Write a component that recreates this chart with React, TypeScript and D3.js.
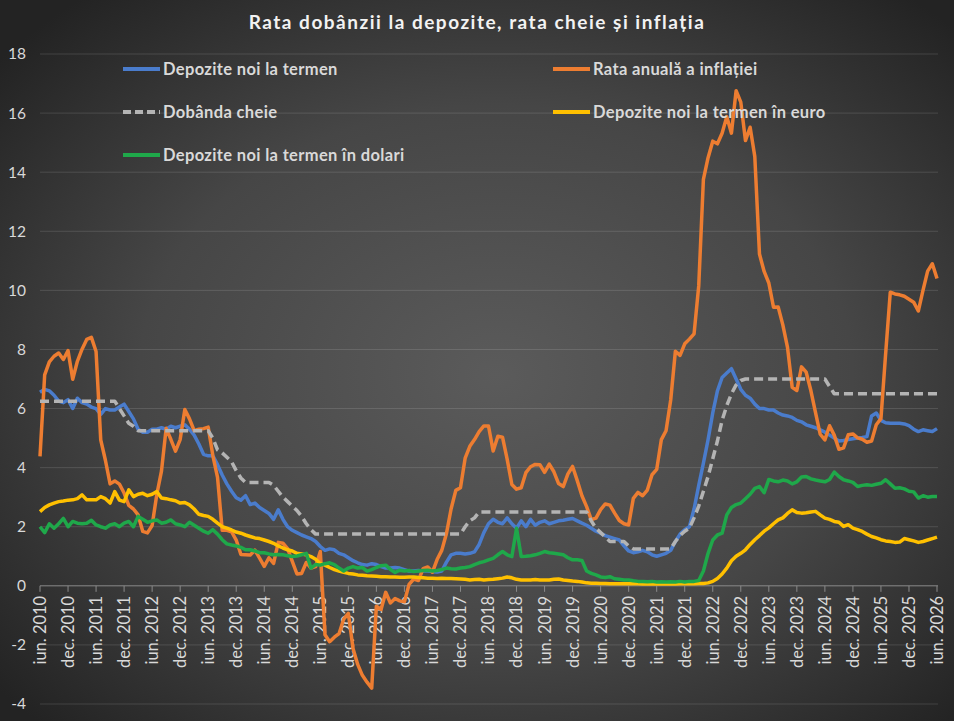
import React, { useRef, useEffect } from 'react';
import * as d3 from 'd3';

// Monthly values, June 2010 .. June 2026 (193 months)
const tickLabels = [
  'iun. 2010', 'dec. 2010', 'iun. 2011', 'dec. 2011', 'iun. 2012', 'dec. 2012',
  'iun. 2013', 'dec. 2013', 'iun. 2014', 'dec. 2014', 'iun. 2015', 'dec. 2015',
  'iun. 2016', 'dec. 2016', 'iun. 2017', 'dec. 2017', 'iun. 2018', 'dec. 2018',
  'iun. 2019', 'dec. 2019', 'iun. 2020', 'dec. 2020', 'iun. 2021', 'dec. 2021',
  'iun. 2022', 'dec. 2022', 'iun. 2023', 'dec. 2023', 'iun. 2024', 'dec. 2024',
  'iun. 2025', 'dec. 2025', 'iun. 2026',
];

const yTicks = [-4, -2, 0, 2, 4, 6, 8, 10, 12, 14, 16, 18];

const depoziteLei = [
  6.55, 6.65, 6.6, 6.45, 6.25, 6.2, 6.3,
  6.0, 6.35, 6.2, 6.15, 6.05, 6.0, 5.8, 6.0, 5.95, 5.95, 6.05, 6.15,
  5.9, 5.65, 5.3, 5.2, 5.2, 5.3, 5.3, 5.35, 5.3, 5.4, 5.35, 5.4,
  5.45, 5.3, 5.1, 4.8, 4.45, 4.4, 4.4, 4.1, 3.75, 3.45, 3.2, 2.98,
  2.9, 3.05, 2.75, 2.8, 2.65, 2.55, 2.45, 2.25, 2.57, 2.25, 2.0, 1.88,
  1.8, 1.72, 1.66, 1.6, 1.5, 1.33, 1.2, 1.25, 1.22, 1.1, 1.05, 0.95,
  0.85, 0.78, 0.72, 0.7, 0.75, 0.72, 0.65, 0.6, 0.6, 0.62, 0.6, 0.55,
  0.5, 0.5, 0.52, 0.5, 0.5, 0.48, 0.47, 0.5, 0.8, 1.05, 1.1, 1.1,
  1.08, 1.1, 1.15, 1.4, 1.8, 2.1, 2.25, 2.15, 2.1, 2.3, 2.1, 1.95,
  2.2, 2.0, 2.25, 2.05, 2.15, 2.2, 2.1, 2.15, 2.2, 2.22, 2.25, 2.28,
  2.2, 2.12, 2.05, 1.95, 1.85, 1.78, 1.7, 1.65, 1.6, 1.55, 1.35, 1.18,
  1.12, 1.15, 1.2, 1.15, 1.05, 1.0, 1.05, 1.1, 1.2, 1.5, 1.75, 1.9,
  2.0, 2.6, 3.4, 4.15, 4.95, 5.85, 6.6, 7.05, 7.2, 7.35, 7.0, 6.65,
  6.45, 6.35, 6.15, 6.0, 6.0, 5.95, 5.95, 5.85, 5.78, 5.75, 5.7, 5.6,
  5.55, 5.45, 5.4, 5.35, 5.28, 5.2, 5.1, 5.0, 4.9, 4.92, 4.95, 4.98,
  5.0, 5.02, 5.05, 5.75, 5.85, 5.6, 5.52, 5.5, 5.5, 5.5, 5.48, 5.42,
  5.3, 5.22, 5.28, 5.25, 5.22, 5.32,
];

const inflatie = [
  4.38, 7.14, 7.58, 7.77, 7.88, 7.66, 7.96,
  6.99, 7.6, 8.01, 8.34, 8.41, 7.93, 4.94, 4.25, 3.45, 3.55, 3.44, 3.14,
  2.72, 2.6, 2.4, 1.84, 1.79, 2.04, 3.09, 3.88, 5.33, 4.96, 4.56, 4.95,
  5.97, 5.65, 5.25, 5.3, 5.32, 5.37, 4.41, 3.67, 1.88, 1.88, 1.83, 1.55,
  1.06, 1.05, 1.04, 1.21, 0.94, 0.66, 0.95, 0.76, 1.47, 1.44, 1.26, 0.83,
  0.4, 0.42, 0.79, 0.6, 0.65, 1.16, -1.66, -1.89, -1.74, -1.62, -1.13, -0.93,
  -2.12, -2.66, -3.03, -3.26, -3.46, -0.69, -0.8, -0.22, -0.58, -0.43, -0.51, -0.54,
  0.05, 0.23, 0.18, 0.58, 0.64, 0.46, 0.89, 1.2, 1.77, 2.61, 3.23, 3.32,
  4.32, 4.72, 4.95, 5.22, 5.41, 5.41, 4.56, 5.06, 5.03, 4.28, 3.43, 3.27,
  3.32, 3.83, 4.03, 4.11, 4.1, 3.84, 4.12, 3.86, 3.46, 3.36, 3.79, 4.04,
  3.56, 3.05, 2.68, 2.24, 2.29, 2.58, 2.77, 2.73, 2.46, 2.21, 2.1, 2.06,
  2.96, 3.16, 3.05, 3.24, 3.76, 3.94, 4.95, 5.25, 6.29, 7.94, 7.8, 8.19,
  8.35, 8.53, 10.15, 13.76, 14.49, 15.05, 14.96, 15.32, 15.88, 15.32, 16.76, 16.37,
  15.07, 15.52, 14.53, 11.23, 10.64, 10.25, 9.43, 9.44, 8.83, 8.07, 6.72, 6.61,
  7.41, 7.23, 6.61, 5.86, 5.13, 4.94, 5.42, 5.1, 4.62, 4.67, 5.11, 5.14,
  5.01, 4.96, 4.86, 4.9, 5.45, 5.66, 7.84, 9.94, 9.88, 9.85, 9.8, 9.7,
  9.6, 9.3, 10.0, 10.65, 10.9, 10.4,
];

const dobandaCheie = [
  6.25, 6.25, 6.25, 6.25, 6.25, 6.25, 6.25,
  6.25, 6.25, 6.25, 6.25, 6.25, 6.25, 6.25, 6.25, 6.25, 6.25, 6.0, 5.75,
  5.5, 5.4, 5.25, 5.25, 5.25, 5.25, 5.25, 5.25, 5.25, 5.25, 5.25, 5.25,
  5.25, 5.25, 5.25, 5.25, 5.25, 5.25, 5.0, 4.6, 4.5, 4.35, 4.2, 3.9,
  3.65, 3.5, 3.5, 3.5, 3.5, 3.5, 3.5, 3.4, 3.2, 3.0, 2.85, 2.7,
  2.55, 2.35, 2.1, 1.9, 1.75, 1.75, 1.75, 1.75, 1.75, 1.75, 1.75, 1.75,
  1.75, 1.75, 1.75, 1.75, 1.75, 1.75, 1.75, 1.75, 1.75, 1.75, 1.75, 1.75,
  1.75, 1.75, 1.75, 1.75, 1.75, 1.75, 1.75, 1.75, 1.75, 1.75, 1.75, 1.75,
  2.0, 2.2, 2.3, 2.5, 2.5, 2.5, 2.5, 2.5, 2.5, 2.5, 2.5, 2.5,
  2.5, 2.5, 2.5, 2.5, 2.5, 2.5, 2.5, 2.5, 2.5, 2.5, 2.5, 2.5,
  2.5, 2.5, 2.5, 2.2, 1.95, 1.8, 1.65, 1.5, 1.5, 1.5, 1.5, 1.35,
  1.25, 1.25, 1.25, 1.25, 1.25, 1.25, 1.25, 1.25, 1.25, 1.5, 1.7, 1.85,
  1.95, 2.3, 2.7, 3.2, 3.7, 4.3, 4.9, 5.6, 6.1, 6.5, 6.8, 6.95,
  7.0, 7.0, 7.0, 7.0, 7.0, 7.0, 7.0, 7.0, 7.0, 7.0, 7.0, 7.0,
  7.0, 7.0, 7.0, 7.0, 7.0, 7.0, 6.75, 6.5, 6.5, 6.5, 6.5, 6.5,
  6.5, 6.5, 6.5, 6.5, 6.5, 6.5, 6.5, 6.5, 6.5, 6.5, 6.5, 6.5,
  6.5, 6.5, 6.5, 6.5, 6.5, 6.5,
];

const depoziteEuro = [
  2.51, 2.65, 2.74, 2.8, 2.85, 2.87, 2.9,
  2.91, 2.95, 3.08, 2.91, 2.91, 2.91, 3.02, 2.95, 2.8, 3.19, 2.9, 2.85,
  3.25, 3.02, 3.1, 3.13, 3.05, 3.1, 3.19, 2.97, 2.95, 2.91, 2.88, 2.8,
  2.82, 2.74, 2.6, 2.42, 2.38, 2.35, 2.25, 2.12, 2.0, 1.95, 1.89, 1.82,
  1.78, 1.72, 1.67, 1.62, 1.6, 1.55, 1.5, 1.44, 1.35, 1.28, 1.22, 1.18,
  1.1, 1.08, 1.05, 0.99, 0.9, 0.75, 0.7, 0.62, 0.55, 0.5, 0.46, 0.42,
  0.4, 0.37, 0.36, 0.34, 0.33, 0.32, 0.31, 0.31, 0.3, 0.3, 0.29, 0.29,
  0.3, 0.3, 0.28, 0.27, 0.26, 0.26, 0.25, 0.26, 0.25, 0.25, 0.24, 0.23,
  0.22, 0.2, 0.21, 0.22, 0.2, 0.21, 0.22, 0.24, 0.26, 0.3, 0.27, 0.22,
  0.2, 0.2, 0.2, 0.21, 0.2, 0.2, 0.2, 0.22, 0.23, 0.2, 0.18, 0.16,
  0.15, 0.13, 0.1, 0.09, 0.09, 0.08, 0.08, 0.07, 0.07, 0.07, 0.07, 0.07,
  0.07, 0.07, 0.06, 0.06, 0.06, 0.06, 0.06, 0.06, 0.06, 0.06, 0.07, 0.07,
  0.07, 0.07, 0.08, 0.08, 0.1, 0.15, 0.25, 0.4, 0.6, 0.85, 1.0, 1.1,
  1.22, 1.4, 1.56, 1.7, 1.85, 1.96, 2.1, 2.23, 2.3, 2.45, 2.57, 2.48,
  2.46, 2.47, 2.5, 2.52, 2.4, 2.29, 2.25, 2.18, 2.15, 2.01, 2.07, 1.95,
  1.9, 1.84, 1.75, 1.67, 1.62, 1.56, 1.52, 1.5, 1.47, 1.48, 1.6, 1.56,
  1.52, 1.47, 1.5, 1.55, 1.6, 1.65,
];

const depoziteDolari = [
  2.0, 1.8, 2.1, 1.95, 2.1, 2.28, 2.0,
  2.18, 2.12, 2.1, 2.12, 2.22, 2.06, 2.0, 1.95, 2.06, 2.1, 2.0, 2.12,
  2.18, 2.0, 2.35, 2.25, 2.15, 2.2, 2.23, 2.12, 2.15, 2.23, 2.1, 2.06,
  2.0, 2.15, 2.05, 1.95, 1.85, 1.78, 1.9, 1.75, 1.56, 1.42, 1.38, 1.35,
  1.3, 1.22, 1.22, 1.18, 1.12, 1.12, 1.08, 1.05, 1.06, 1.05, 1.02, 0.99,
  1.01, 1.05, 1.1, 0.6, 0.72, 0.7, 0.75, 0.78, 0.72, 0.6, 0.5, 0.6,
  0.65, 0.6, 0.62, 0.5, 0.55, 0.62, 0.68, 0.7, 0.55, 0.45, 0.53, 0.5,
  0.52, 0.48, 0.5, 0.52, 0.53, 0.5, 0.52, 0.55, 0.6, 0.58, 0.57, 0.6,
  0.62, 0.65, 0.72, 0.78, 0.82, 0.88, 0.93, 1.05, 1.16, 1.05, 0.99, 1.95,
  0.99, 1.0, 1.02, 1.05, 1.1, 1.16, 1.12, 1.1, 1.08, 1.05, 0.95, 0.88,
  0.88, 0.86, 0.5, 0.42, 0.37, 0.3, 0.28, 0.31, 0.24, 0.22, 0.2, 0.2,
  0.17, 0.15, 0.15, 0.14, 0.15, 0.13, 0.14, 0.13, 0.14, 0.13, 0.15, 0.13,
  0.15, 0.15, 0.18, 0.5, 1.1, 1.55, 1.72, 1.78, 2.4, 2.65, 2.75, 2.8,
  2.95, 3.1, 3.3, 3.36, 3.15, 3.6, 3.55, 3.52, 3.58, 3.55, 3.45, 3.52,
  3.68, 3.7, 3.62, 3.58, 3.55, 3.52, 3.6, 3.85, 3.7, 3.59, 3.55, 3.5,
  3.36, 3.4, 3.42, 3.4, 3.44, 3.47, 3.59, 3.45, 3.3, 3.32, 3.28, 3.2,
  3.18, 2.97, 3.05, 3.0, 3.02, 3.02,
];

const series = [
  { name: 'Depozite noi la termen', values: depoziteLei, color: '#4a7ccc', dash: null },
  { name: 'Rata anuală a inflației', values: inflatie, color: '#ed7d31', dash: null },
  { name: 'Dobânda cheie', values: dobandaCheie, color: '#b4b4b4', dash: '9,5' },
  { name: 'Depozite noi la termen în euro', values: depoziteEuro, color: '#ffc000', dash: null },
  { name: 'Depozite noi la termen în dolari', values: depoziteDolari, color: '#1fa84a', dash: null },
];

const FONT = 'Lato, "Open Sans", sans-serif';

export default function App() {
  const svgRef = useRef<SVGSVGElement>(null);

  useEffect(() => {
    document.body.style.margin = '0';
    if (!svgRef.current) return;
    const width = 954;
    const height = 721;
    const svg = d3.select(svgRef.current);
    svg.selectAll('*').remove();

    // background
    const defs = svg.append('defs');
    const grad = defs.append('radialGradient')
      .attr('id', 'bg')
      .attr('cx', '52%').attr('cy', '52%').attr('r', '68%');
    grad.append('stop').attr('offset', '0%').attr('stop-color', '#5b5b5b');
    grad.append('stop').attr('offset', '55%').attr('stop-color', '#464646');
    grad.append('stop').attr('offset', '100%').attr('stop-color', '#232323');
    svg.append('rect').attr('width', width).attr('height', height).attr('fill', 'url(#bg)');

    const n = depoziteLei.length;
    const x = d3.scalePoint<number>().domain(d3.range(n)).range([40, 937]);
    const y = d3.scaleLinear().domain([-4, 18]).range([704, 54]);

    // gridlines
    svg.append('g').selectAll('line').data(yTicks).join('line')
      .attr('x1', 40).attr('x2', 938)
      .attr('y1', d => y(d)).attr('y2', d => y(d))
      .attr('stroke', d => (d === 0 ? '#8a8a8a' : 'rgba(255,255,255,0.13)'))
      .attr('stroke-width', 1);

    // y labels
    svg.append('g').selectAll('text').data(yTicks).join('text')
      .attr('x', 26).attr('y', d => y(d))
      .attr('dy', '0.35em')
      .attr('text-anchor', 'end')
      .attr('font-family', FONT)
      .attr('font-size', 15.5)
      .attr('fill', '#d9d9d9')
      .text(d => d.toString());

    // x ticks & labels
    const tickIdx = tickLabels.map((_, i) => i * 6);
    svg.append('g').selectAll('line').data(tickIdx).join('line')
      .attr('x1', d => x(d)!).attr('x2', d => x(d)!)
      .attr('y1', y(0)).attr('y2', y(0) + 6)
      .attr('stroke', '#8a8a8a');

    svg.append('g').selectAll('text').data(tickIdx).join('text')
      .attr('transform', d => `translate(${x(d)},${y(0) + 10}) rotate(-90)`)
      .attr('dy', '0.36em')
      .attr('text-anchor', 'end')
      .attr('font-family', FONT)
      .attr('font-size', 16.5)
      .attr('fill', '#d9d9d9')
      .text((_, i) => tickLabels[i]);

    // lines
    const line = d3.line<number>()
      .x((_, i) => x(i)!)
      .y(d => y(d));

    series.forEach(s => {
      svg.append('path')
        .datum(s.values)
        .attr('fill', 'none')
        .attr('stroke', s.color)
        .attr('stroke-width', 3.5)
        .attr('stroke-linejoin', 'round')
        .attr('stroke-dasharray', s.dash)
        .attr('d', line);
    });

    // title
    svg.append('text')
      .attr('x', 477).attr('y', 29)
      .attr('text-anchor', 'middle')
      .attr('font-family', FONT)
      .attr('font-weight', 'bold')
      .attr('font-size', 19)
      .attr('letter-spacing', 1.5)
      .attr('fill', '#f2f2f2')
      .text('Rata dobânzii la depozite, rata cheie și inflația');

    // legend (row-major, two columns)
    const legendPos = [
      { x: 123, y: 69 }, { x: 553, y: 69 },
      { x: 123, y: 112 }, { x: 553, y: 112 },
      { x: 123, y: 155 },
    ];
    series.forEach((s, i) => {
      const p = legendPos[i];
      const g = svg.append('g').attr('transform', `translate(${p.x},${p.y})`);
      g.append('line')
        .attr('x1', 0).attr('x2', 37)
        .attr('stroke', s.color)
        .attr('stroke-width', 4)
        .attr('stroke-dasharray', s.dash ? '8,4' : null);
      g.append('text')
        .attr('x', 40).attr('dy', '0.36em')
        .attr('font-family', FONT)
        .attr('font-weight', 'bold')
        .attr('font-size', 16.5)
        .attr('letter-spacing', 0.35)
        .attr('fill', '#d9d9d9')
        .text(s.name);
    });
  }, []);

  return <svg ref={svgRef} width={954} height={721} style={{ display: 'block' }} />;
}
